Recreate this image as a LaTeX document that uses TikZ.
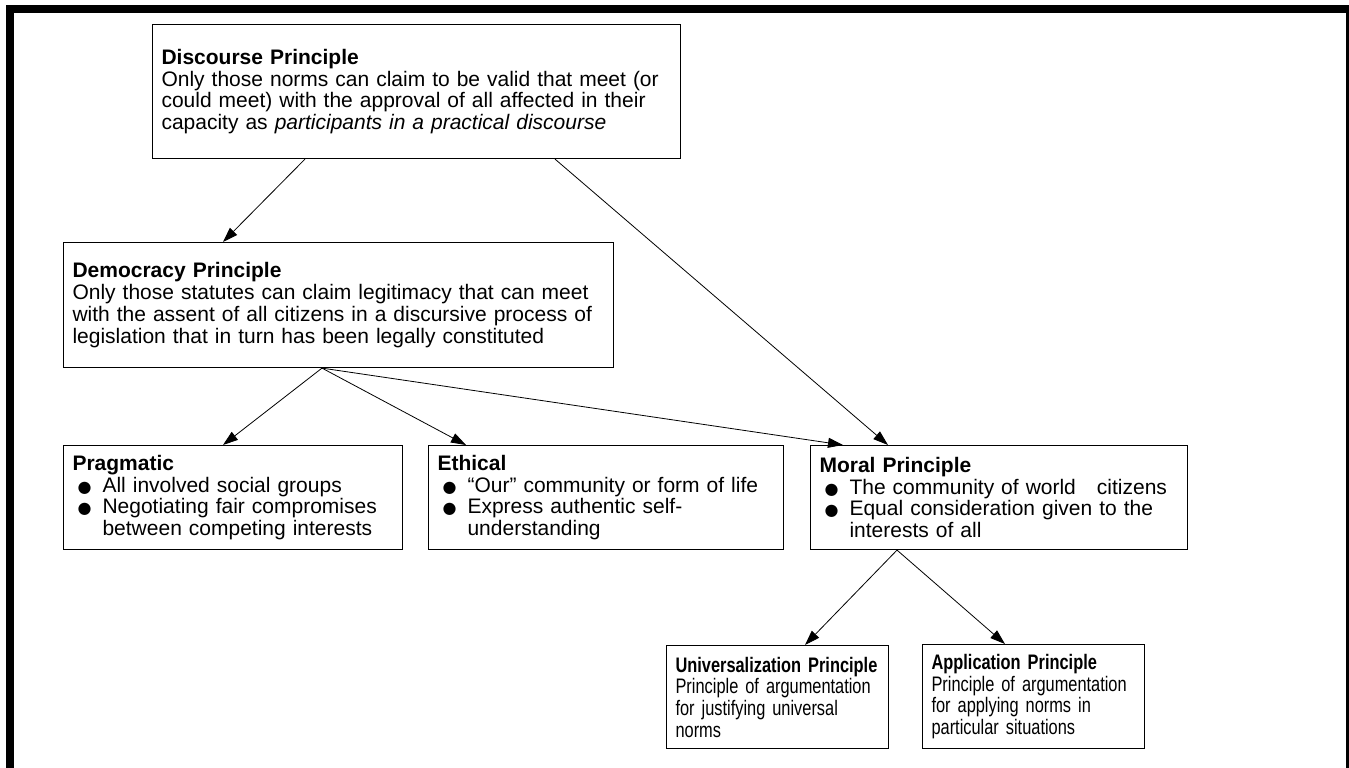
\documentclass[tikz,border=0pt]{standalone}
\usepackage{fontspec}
\setmainfont{Liberation Sans}
\newfontfamily\dotfont{DejaVu Sans}
\newfontfamily\narrowfont[FakeStretch=0.78]{Liberation Sans}
\usetikzlibrary{arrows.meta}

\newcommand{\bul}{\hspace*{5pt}\makebox[25pt][l]{\dotfont\fontsize{16}{16}\selectfont ●}}
\newcommand{\ind}{\hspace*{30pt}}

\begin{document}
\begin{tikzpicture}[x=1pt, y=-1pt,
    every node/.style={draw, line width=1.1pt, anchor=north west, align=left,
      inner xsep=9pt, font=\fontsize{21}{21.7}\selectfont},
    narrow/.style={font=\narrowfont\fontsize{21}{21.7}\selectfont},
    arr/.style={-{Triangle[length=15pt,width=10pt]}, line width=0.8pt}]
  \useasboundingbox (0,0) rectangle (1349,768);
  % Frame
  \draw[line width=8pt] (10,9) rectangle (1350,790);
  % Boxes
  \node[text width=510pt, minimum height=134pt] (disc) at (152,24)
    {\textbf{Discourse Principle}\\
     Only those norms can claim to be valid that meet (or\\
     could meet) with the approval of all affected in their\\
     capacity as \textit{participants in a practical discourse}};
  \node[text width=532pt, minimum height=125pt] (demo) at (63,242)
    {\textbf{Democracy Principle}\\
     Only those statutes can claim legitimacy that can meet\\
     with the assent of all citizens in a discursive process of\\
     legislation that in turn has been legally constituted};
  \node[text width=321pt, minimum height=104pt] (prag) at (63,445)
    {\textbf{Pragmatic}\\
     \bul All involved social groups\\
     \bul Negotiating fair compromises\\
     \ind between competing interests};
  \node[text width=337pt, minimum height=104pt] (eth) at (428,445)
    {\textbf{Ethical}\\
     \bul “Our” community or form of life\\
     \bul Express authentic self-\\
     \ind understanding};
  \node[text width=359pt, minimum height=104pt] (moral) at (810,445)
    {\textbf{Moral Principle}\\
     \bul The community of world~~~citizens\\
     \bul Equal consideration given to the\\
     \ind interests of all};
  \node[narrow, text width=204pt, minimum height=103pt] (univ) at (666,645)
    {\textbf{Universalization Principle}\\
     Principle of argumentation\\
     for justifying universal\\
     norms};
  \node[narrow, text width=204pt, minimum height=104pt] (appl) at (922,644)
    {\textbf{Application Principle}\\
     Principle of argumentation\\
     for applying norms in\\
     particular situations};
  % Arrows
  \draw[arr] ([xshift=153pt]disc.south west) -- ([xshift=160pt]demo.north west);
  \draw[arr] ([xshift=403pt]disc.south west) -- ([xshift=78pt]moral.north west);
  \draw[arr] ([xshift=259pt]demo.south west) -- ([xshift=160pt]prag.north west);
  \draw[arr] ([xshift=259pt]demo.south west) -- ([xshift=38pt]eth.north west);
  \draw[arr] ([xshift=259pt]demo.south west) -- ([xshift=33pt]moral.north west);
  \draw[arr] ([xshift=87pt]moral.south west) -- ([xshift=139pt]univ.north west);
  \draw[arr] ([xshift=87pt]moral.south west) -- ([xshift=83pt]appl.north west);
\end{tikzpicture}
\end{document}
